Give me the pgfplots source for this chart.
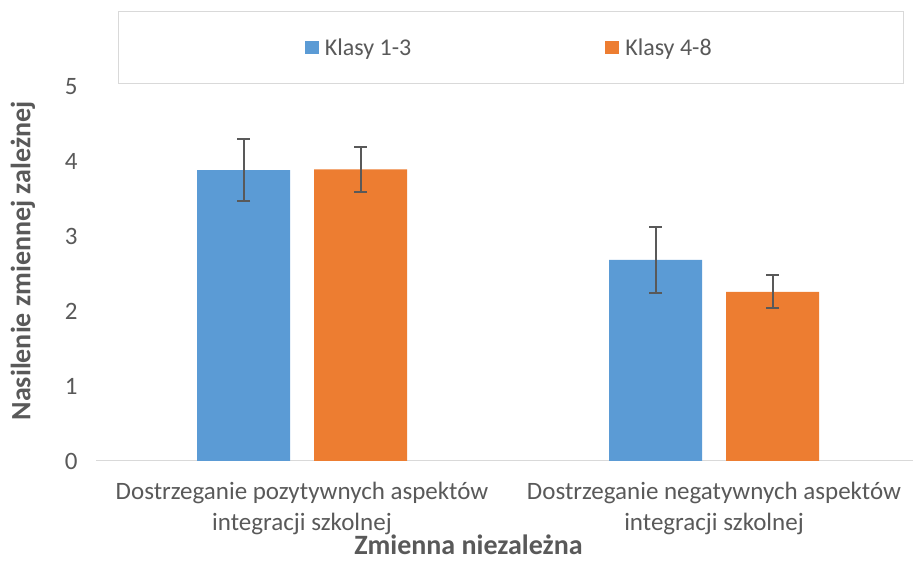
\documentclass[border=0pt]{standalone}
\usepackage{pgfplots}
\pgfplotsset{compat=1.18}
\usepackage{fontspec}
\setmainfont{Carlito}
\definecolor{cblue}{HTML}{5B9BD5}
\definecolor{corange}{HTML}{ED7D31}
\definecolor{txt}{HTML}{595959}
\definecolor{axl}{HTML}{D9D9D9}
\begin{document}
\begin{tikzpicture}[x=1pt,y=1pt]
\path[use as bounding box] (0,0) rectangle (913,562);
\begin{axis}[
  at={(96pt,101pt)}, anchor=south west,
  scale only axis, width=824pt, height=374pt,
  xmin=-0.5, xmax=1.5, ymin=0, ymax=5,
  ybar=24pt, bar width=93pt,
  axis x line*=bottom, axis y line*=left,
  x axis line style={draw=axl, line width=1pt, -},
  y axis line style={draw=none},
  major tick length=0pt,
  ytick={0,1,2,3,4,5},
  xtick={0,1},
  xticklabels={{Dostrzeganie pozytywnych aspektów\\integracji szkolnej},{Dostrzeganie negatywnych aspektów\\integracji szkolnej}},
  tick label style={font=\fontsize{25}{30.5}\selectfont, text=txt},
  xticklabel style={align=center, yshift=-18pt},
  yticklabel style={xshift=-15pt},
  /pgf/number format/assume math mode=true,
  xlabel={Zmienna niezależna},
  ylabel={Nasilenie zmiennej zależnej},
  label style={font=\fontsize{28}{32}\selectfont\bfseries, text=txt, inner sep=0pt},
  xlabel style={at={(axis description cs:0.452,-0.2487)}, anchor=base},
  ylabel style={at={(axis description cs:-0.0886,0.535)}, anchor=center, rotate=0},
  legend columns=2,
  legend image code/.code={\path[#1, draw=none] (0pt,-6.5pt) rectangle (14pt,6.5pt);},
  legend style={at={(axis description cs:0.504,1.1056)}, anchor=center,
    draw=axl, line width=1pt, inner xsep=186pt, inner ysep=25pt,
    font=\fontsize{24}{29}\selectfont, text=txt,
    nodes={inner xsep=6pt},
    /tikz/column 2/.style={column sep=188pt}},
  error bars/y dir=both, error bars/y explicit,
  error bars/error bar style={line width=2pt, color=txt},
  error bars/error mark options={rotate=90, mark size=6.5pt, line width=2pt, color=txt},
]
\addplot[fill=cblue, draw=none] coordinates {(0,3.89) +- (0,0.42) (1,2.69) +- (0,0.44)};
\addplot[fill=corange, draw=none] coordinates {(0,3.90) +- (0,0.30) (1,2.26) +- (0,0.22)};
\legend{Klasy 1-3, Klasy 4-8}
\end{axis}
\end{tikzpicture}
\end{document}
